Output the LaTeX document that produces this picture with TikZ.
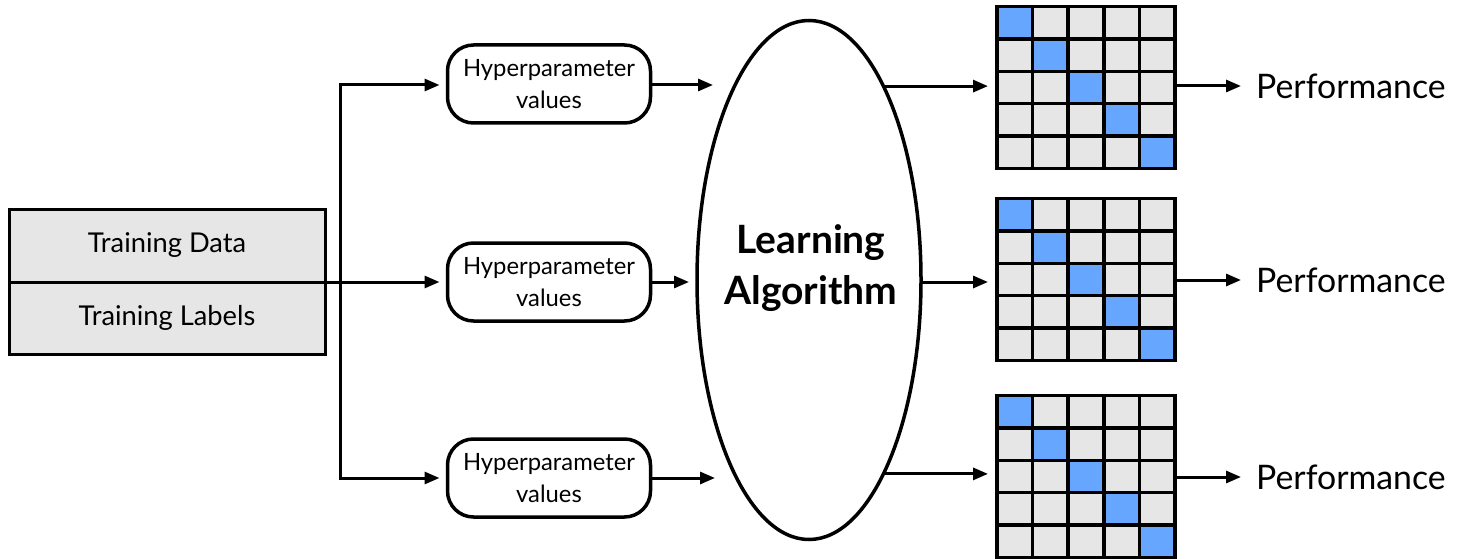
\documentclass[tikz,border=0pt]{standalone}
\usepackage{fontspec}
\setmainfont{Lato}
\usetikzlibrary{arrows.meta,shapes.geometric}
\definecolor{cellgray}{HTML}{E6E6E6}
\definecolor{cellblue}{HTML}{66A6FF}
\begin{document}
\begin{tikzpicture}[x=1pt,y=-1pt,
  arr/.style={-{Triangle[length=15pt,width=12pt]}, line width=3pt},
  plain/.style={line width=3pt},
  hyp/.style={draw, line width=3.5pt, rounded corners=26pt, minimum width=203pt, minimum height=78pt,
    align=center, inner sep=0pt, outer sep=0pt, font=\fontsize{23.8}{32.5}\selectfont},
  tbox/.style={draw, line width=3pt, fill=cellgray, minimum width=316pt, inner sep=0pt, outer sep=0pt,
    font=\fontsize{27.3}{30}\selectfont},
  perf/.style={anchor=west, inner sep=0pt, font=\fontsize{33.8}{40}\selectfont},
  mat/.style={draw, line width=3.5pt, fill=cellgray, minimum width=178pt, minimum height=162pt, inner sep=0pt, outer sep=0pt},
  grid/.style={line width=3.5pt}
]
\useasboundingbox (0,0) rectangle (1465,559);

% training data box
\node[tbox, minimum height=73pt] (data) at (167,245.5) {Training Data};
\node[tbox, minimum height=72pt] (labels) at (167,318) {Training Labels};

% hyperparameter boxes
\node[hyp] (h1) at (549,84) {Hyperparameter\\values};
\node[hyp] (h2) at (549,282) {Hyperparameter\\values};
\node[hyp] (h3) at (549,478) {Hyperparameter\\values};

% learning algorithm
\node[draw, ellipse, line width=3.5pt, minimum width=224pt, minimum height=519pt, inner sep=0pt, outer sep=0pt] (ell) at (809,280) {};
\node[align=center, font=\bfseries\fontsize{39}{51}\selectfont] (alg) at (811,268) {Learning\\Algorithm};

% matrices
\foreach \t/\n in {6.5/1, 198.5/2, 395.5/3}{
  \node[mat, anchor=north west] (m\n) at (997,\t) {};
  \foreach \k in {0,...,4}{
    \fill[cellblue] (997+\k*35.6,\t+\k*32.4) rectangle ++(35.6,32.4);
  }
  \foreach \k in {1,...,4}{
    \draw[grid] (997+\k*35.6,\t) -- ++(0,162);
    \draw[grid] (997,\t+\k*32.4) -- ++(178,0);
  }
  \draw[grid] (m\n.north west) rectangle (m\n.south east);
}

% performance labels
\node[perf] (p1) at (1256,86) {Performance};
\node[perf] (p2) at (1256,280) {Performance};
\node[perf] (p3) at (1256,477) {Performance};

% connectors from training box
\coordinate (jt) at (340,85);
\coordinate (jb) at (340,478);
\draw[plain, line cap=rect] (jt) -- (jb);
\draw[arr, shorten >=8pt] (jt) -- (jt -| h1.west);
\draw[arr, shorten >=8pt] (jb) -- (jb -| h3.west);
\draw[arr, shorten >=8pt] (data.south west) -- (data.south west -| h2.west);

% hyper -> algorithm
\coordinate (a1) at (713,85);
\coordinate (a2) at (689,282);
\coordinate (a3) at (715,478);
\draw[arr] (h1.east |- a1) -- (a1);
\draw[arr] (h2.east |- a2) -- (a2);
\draw[arr] (h3.east |- a3) -- (a3);

% algorithm -> matrices
\draw[arr, shorten >=9pt] (ell.69.4) -- (ell.69.4 -| m1.west);
\draw[arr, shorten >=9pt] (ell.east |- a2) -- (a2 -| m2.west);
\draw[arr, shorten >=9pt] (ell.-69.6) -- (ell.-69.6 -| m3.west);

% matrices -> performance
\draw[arr, shorten >=15pt] (m1.east |- p1) -- (p1.west);
\draw[arr, shorten >=15pt] (m2.east |- p2) -- (p2.west);
\draw[arr, shorten >=15pt] (m3.east |- p3) -- (p3.west);
\end{tikzpicture}
\end{document}
